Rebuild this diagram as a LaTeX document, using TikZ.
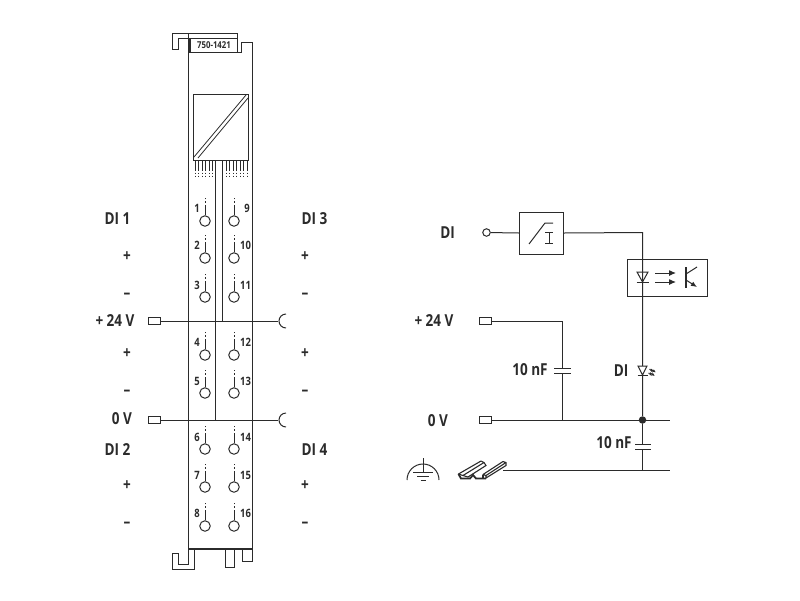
\documentclass[tikz,border=0pt]{standalone}
\usepackage{fontspec}
\setmainfont{Open Sans}[FakeStretch=0.82]
\usetikzlibrary{arrows.meta}
\definecolor{ink}{HTML}{2B2B2B}
\tikzset{
  ln/.style={draw=ink,line width=1pt},
  lbl/.style={text=ink,font=\fontsize{16.5}{16}\selectfont\bfseries,inner sep=0pt,anchor=center},
  num/.style={text=ink,font=\fontsize{11.5}{11}\selectfont\bfseries,inner sep=0pt,anchor=center},
  tag/.style={text=ink,font=\fontsize{9.5}{9}\selectfont\bfseries,inner sep=0pt,anchor=center},
  contact/.style={circle,draw=ink,line width=1pt,minimum size=10.5pt,inner sep=0pt},
  term/.style={draw=ink,line width=1pt,minimum width=12pt,minimum height=7pt,inner sep=0pt},
  plain/.style={draw=ink,line width=1pt,inner sep=0pt},
  pin/.style={circle,draw=ink,line width=1pt,minimum size=7.5pt,inner sep=0pt},
  junction/.style={circle,fill=ink,minimum size=7.5pt,inner sep=0pt},
}
\newcommand{\contactpin}[3]{% name, x, y
  \node[contact] (#1) at (#2,#3) {};
  \draw[ln] (#1.north) -- ++(0,-9);
  \draw[draw=ink,line width=1pt,dash pattern=on 1.8pt off 1.8pt] (#2,#3-14.5) -- ++(0,-9);
}
\begin{document}
\begin{tikzpicture}[x=1pt,y=-1pt]
\useasboundingbox (0,0) rectangle (800,600);
% ---- module body
\draw[ln] (188.5,52) -- (188.5,549);
\draw[ln] (252.5,42) -- (252.5,561);
\draw[draw=ink,line width=1.6pt] (189,549) -- (253,549);
% top latch
\draw[ln] (189,38.5) -- (178,38.5) -- (178,49.5) -- (172,49.5) -- (172,33.5) -- (237,33.5) -- (237,52.5) -- (189,52.5);
\draw[ln] (188.5,33.5) -- (188.5,52);
\draw[draw=ink,line width=1.8pt] (190,38) -- (190,52);
\draw[ln] (190,38.5) -- (237,38.5);
\draw[ln] (237,52.5) -- (241,52.5) -- (241,42.5) -- (253,42.5);
\node[tag] (type) at (214,45.5) {750-1421};
% bottom latches
\draw[ln] (188.5,549) -- (188.5,564) -- (178,564) -- (178,553) -- (172,553) -- (172,569) -- (194,569) -- (194,549);
\draw[ln] (225,549) -- (225,567) -- (234,567) -- (234,549);
\draw[ln] (242,549) -- (242,561) -- (253,561);
% converter
\node[plain,minimum width=55pt,minimum height=66pt,anchor=north west] (conv) at (193,94) {};
\draw[ln,line width=0.8pt] (194,157) -- (246,95);
\draw[ln,line width=0.8pt] (198,158) -- (248,98);
\foreach \x in {195,198.5,202,205.5,209,212.5,226,229.5,233,236.5,240,243.5,247}{
  \draw[ln,line width=0.8pt] (\x,160) -- (\x,171);
  \draw[draw=ink,line width=0.8pt,dash pattern=on 1.5pt off 1.6pt] (\x,172.5) -- (\x,178);
}
\draw[ln] (215.5,160) -- (215.5,420);
\draw[ln] (222.5,160) -- (222.5,321);
% contacts
\foreach \n/\y in {a/221,b/258,c/297,d/355,e/393,f/449,g/487,h/526}{
  \contactpin{l\n}{205}{\y}
  \contactpin{r\n}{234}{\y}
}
\foreach \x/\y/\t in {197/208/1,197/245/2,197/285/3,197/342/4,197/381/5,197/437/6,197/475/7,197/513/8}{
  \node[num] at (\x,\y) {\t};
}
\foreach \x/\y/\t in {247/208/9,245.5/245/10,245.5/285/11,245.5/342/12,245.5/381/13,245.5/437/14,245.5/475/15,245.5/513/16}{
  \node[num] at (\x,\y) {\t};
}
% supply rails
\node[term] (t24) at (154,321) {};
\node[term] (t0) at (154,420) {};
\coordinate (c24) at (278,321);
\coordinate (c0) at (278,420);
\draw[ln] (t24.east) -- (c24);
\draw[ln] (t0.east) -- (c0);
\draw[ln] (286,314) arc[start angle=-90,end angle=-270,radius=7];
\draw[ln] (286,413) arc[start angle=-90,end angle=-270,radius=7];
% left labels
\node[lbl] (di1) at (117.5,219) {DI 1};
\node[lbl] at (127,257) {+};
\node[lbl] at (127,296) {–};
\node[lbl] (v24) at (115,321) {+ 24 V};
\node[lbl] at (127,354) {+};
\node[lbl] at (127,393) {–};
\node[lbl] (v0) at (122,419) {0 V};
\node[lbl] (di2) at (117.5,450) {DI 2};
\node[lbl] at (127,486) {+};
\node[lbl] at (127,525) {–};
\node[lbl] (di3) at (314.5,219) {DI 3};
\node[lbl] at (305,257) {+};
\node[lbl] at (305,296) {–};
\node[lbl] at (305,354) {+};
\node[lbl] at (305,393) {–};
\node[lbl] (di4) at (314.5,450) {DI 4};
\node[lbl] at (305,486) {+};
\node[lbl] at (305,525) {–};
% ---- schematic
\node[lbl] (sdi) at (447.5,233) {DI};
\node[pin] (in) at (486.5,232.5) {};
\node[plain,minimum width=44pt,minimum height=42pt,anchor=north west] (filter) at (519,211.5) {};
\draw[ln] (in) -- (filter.west);
\draw[ln] (529,244) -- (545,223) -- (553,223);
\draw[ln] (545,232) -- (553,232) (549,232) -- (549,243) (545,243) -- (553,243);
\node[plain,minimum width=80pt,minimum height=37pt,anchor=north west] (opto) at (627,259) {};
\coordinate (j1) at (642.5,232.5);
\node[junction] (jn) at (642.5,420) {};
\coordinate (jb) at (642.5,470);
\draw[ln] (filter.east) -- (j1) -- (jn);
% opto symbol
\draw[ln] (637,272) -- (648,272) -- (642.5,282) -- cycle;
\draw[ln] (636.5,282) -- (648.5,282);
\draw[ln,-{Latex[length=7pt,width=6pt]}] (655,273) -- (676,273);
\draw[ln,-{Latex[length=7pt,width=6pt]}] (655,282) -- (676,282);
\draw[draw=ink,line width=1.3pt] (686,267) -- (686,288);
\draw[ln] (686,274) -- (697,267);
\draw[ln,-{Latex[length=6pt,width=5pt]}] (686,280) -- (697,287);
% 24 V branch
\node[lbl] (s24) at (434,321) {+ 24 V};
\node[term] (st24) at (485,321) {};
\coordinate (k1) at (562,321);
\coordinate (k2) at (562,420);
\draw[ln] (st24.east) -- (k1) -- (562,368) (562,373) -- (k2);
\draw[ln] (554,368) -- (571,368) (554,373) -- (571,373);
\node[lbl] (c1) at (530,370) {10 nF};
% 0 V
\node[lbl] (s0) at (438,421) {0 V};
\node[term] (st0) at (485,420) {};
\coordinate (e0) at (670,420);
\draw[ln] (st0.east) -- (jn) -- (e0);
\node[lbl] (led) at (621,371) {DI};
\draw[ln,fill=white] (638,366) -- (647,366) -- (642.5,375) -- cycle;
\draw[ln] (637.5,375) -- (647.5,375);
\draw[draw=ink,line width=0.8pt,-{Latex[length=3.5pt,width=3pt]}] (649.5,369) -- (652,371.5) -- (651.5,369.5) -- (656,372.5);
\draw[draw=ink,line width=0.8pt,-{Latex[length=3.5pt,width=3pt]}] (648.5,373) -- (651,375) -- (650.5,373) -- (655,376);
% lower capacitor
\draw[ln] (jn) -- (642.5,444) (642.5,449) -- (jb);
\draw[ln] (635,444) -- (651,444) (635,449) -- (651,449);
\node[lbl] (c2) at (614,443) {10 nF};
\coordinate (r0) at (503,470);
\coordinate (e1) at (670,470);
\draw[ln] (r0) -- (e1);
% earth
\draw[ln] (407,480) arc[start angle=180,end angle=360,radius=16];
\draw[ln] (423,458) -- (423,472);
\draw[ln] (413,472) -- (433,472) (417,476) -- (429,476) (420.5,480) -- (425.5,480);
% DIN rail
\draw[draw=ink,line width=1.1pt,line join=round] (458.5,474) -- (481,461) -- (484,462.5) -- (463,475.5) -- cycle;
\draw[draw=ink,line width=1.1pt] (463,475.5) -- (468,477) -- (486,465.5) -- (484,462.5);
\draw[draw=ink,line width=1.1pt,line join=round] (483,474.5) -- (503,461.5) -- (506,462.5) -- (486,475.5) -- cycle;
\draw[draw=ink,line width=1.1pt] (486,475.5) -- (486,478) -- (506,465.5) -- (506,462.5);
\draw[draw=ink,line width=1.8pt] (458.5,474) -- (461,478.5) -- (470,478.5) -- (473,475) -- (476,478.5) -- (486,478.5);
\draw[draw=ink,line width=1.1pt] (483,474.5) -- (483,478.5);
\end{tikzpicture}
\end{document}
